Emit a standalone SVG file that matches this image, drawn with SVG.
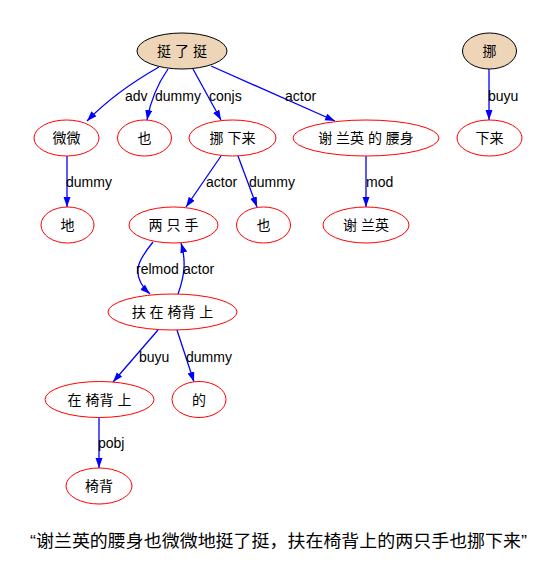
<svg xmlns="http://www.w3.org/2000/svg" width="559" height="569" viewBox="0 0 559 569">
<style>
.n ellipse{fill:#fff;stroke:#ff0000;stroke-width:1}
.r ellipse{fill:#eed5b7;stroke:#000;stroke-width:1}
.n text,.r text{font-family:"Liberation Sans","Noto Sans CJK SC",sans-serif;font-size:14px;text-anchor:middle;fill:#000}
.e path{fill:none;stroke:#0000ff;stroke-width:1.3;marker-end:url(#ah)}
.e text{font-family:"Liberation Sans",Arial,sans-serif;font-size:14px;fill:#000}
.t{font-family:"Liberation Sans","Noto Sans CJK SC",sans-serif;font-size:17px;text-anchor:middle;fill:#000}
</style>
<defs>
<marker id="ah" markerUnits="userSpaceOnUse" markerWidth="11" markerHeight="8" refX="10" refY="3.5" orient="auto">
<path d="M0,0 L10,3.5 L0,7 z" fill="#0000ff" stroke="none"/>
</marker>
</defs>
<rect width="559" height="569" fill="#fff"/>
<g id="edges" class="e">
<path d="M159,67 Q115,92 87,121"/><text x="125" y="101">adv</text>
<path d="M168,69 Q152,92 147,120"/><text x="155" y="101">dummy</text>
<path d="M193,69 L221,120"/><text x="209" y="101">conjs</text>
<path d="M211,66 L335,121"/><text x="285" y="101">actor</text>
<path d="M489,69 L489,120"/><text x="488" y="101">buyu</text>
<path d="M67,156 L67,207"/><text x="66" y="187">dummy</text>
<path d="M221,156 L186,207"/><text x="206" y="187">actor</text>
<path d="M238,156 L257,207"/><text x="249" y="187">dummy</text>
<path d="M366,156 L366,207"/><text x="366" y="187">mod</text>
<path d="M153,242 C140,258 128,274 150,294"/><text x="136" y="274">relmod</text>
<path d="M178,294 C185,275 186,260 181,243"/><text x="183" y="274">actor</text>
<path d="M158,330 L113,382"/><text x="139" y="362">buyu</text>
<path d="M177,330 L194,382"/><text x="186" y="362">dummy</text>
<path d="M99,417 L99,468"/><text x="98" y="448">pobj</text>
</g>
<g id="n_ting" class="r"><ellipse cx="182" cy="51" rx="45" ry="18"/><text x="182" y="56">挺 了 挺</text></g>
<g id="n_nuo" class="r"><ellipse cx="489.5" cy="51" rx="27" ry="18"/><text x="489.5" y="56">挪</text></g>
<g id="n_weiwei" class="n"><ellipse cx="66.5" cy="138" rx="32.5" ry="18"/><text x="66.5" y="143">微微</text></g>
<g id="n_ye1" class="n"><ellipse cx="144.5" cy="138" rx="27" ry="18"/><text x="144.5" y="143">也</text></g>
<g id="n_nuoxialai" class="n"><ellipse cx="232.5" cy="138" rx="43.5" ry="18"/><text x="232.5" y="143">挪 下来</text></g>
<g id="n_yaoshen" class="n"><ellipse cx="366" cy="138" rx="73" ry="18"/><text x="366" y="143">谢 兰英 的 腰身</text></g>
<g id="n_xialai" class="n"><ellipse cx="489.5" cy="138" rx="32.5" ry="18"/><text x="489.5" y="143">下来</text></g>
<g id="n_di" class="n"><ellipse cx="67.5" cy="225" rx="26.5" ry="18"/><text x="67.5" y="230">地</text></g>
<g id="n_liangzhishou" class="n"><ellipse cx="173.5" cy="225" rx="44.5" ry="18"/><text x="173.5" y="230">两 只 手</text></g>
<g id="n_ye2" class="n"><ellipse cx="263.5" cy="225" rx="27" ry="18"/><text x="263.5" y="230">也</text></g>
<g id="n_xielanying" class="n"><ellipse cx="366" cy="225" rx="43" ry="18"/><text x="366" y="230">谢 兰英</text></g>
<g id="n_fu" class="n"><ellipse cx="172.5" cy="312" rx="64.5" ry="18"/><text x="172.5" y="317">扶 在 椅背 上</text></g>
<g id="n_zai" class="n"><ellipse cx="99.5" cy="399.5" rx="54.5" ry="18"/><text x="99.5" y="404.5">在 椅背 上</text></g>
<g id="n_de" class="n"><ellipse cx="199" cy="399.5" rx="27" ry="18"/><text x="199" y="404.5">的</text></g>
<g id="n_yibei" class="n"><ellipse cx="99" cy="486" rx="33" ry="18"/><text x="99" y="491">椅背</text></g>
<text class="t" x="278.5" y="547" textLength="497" lengthAdjust="spacingAndGlyphs">“谢兰英的腰身也微微地挺了挺，扶在椅背上的两只手也挪下来”</text>
</svg>
